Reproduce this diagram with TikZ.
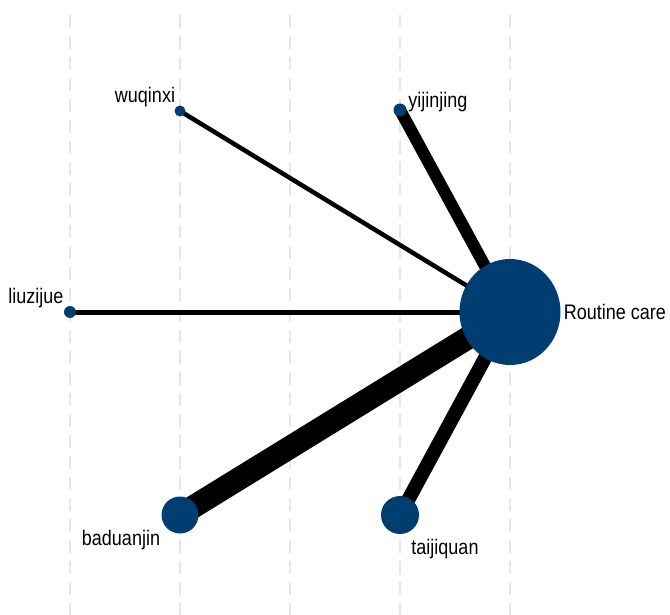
\documentclass[tikz,border=0pt]{standalone}
\usepackage{fontspec}
\setmainfont{Liberation Sans}
\usetikzlibrary{positioning, backgrounds, shapes.geometric}

\definecolor{nodeblue}{RGB}{0,62,114}
\definecolor{gridgray}{RGB}{230,230,230}
\newcommand{\tallword}[1]{\scalebox{1}[1.17]{#1}}

\begin{document}
\begin{tikzpicture}[x=1pt, y=-1pt, on grid, inner sep=0pt]
        \tikzset{trt/.style={circle, fill=nodeblue, minimum size=#1},
                 lbl/.style={font=\fontsize{18}{20}\selectfont, inner sep=0pt},
                 link/.style={draw=black, line width=#1}}
        \useasboundingbox (0,0) rectangle (670,615);

        \node[trt=11pt] (wuqinxi) at (180,111) {};
        \node[trt=13pt] (yijinjing) at (400,110) {};
        \node[trt=12pt] (liuzijue) at (70,312) {};
        \node[ellipse, fill=nodeblue, minimum width=101pt, minimum height=106pt] (routine) at (510,312) {};
        \node[trt=37pt] (baduanjin) at (180,515) {};
        \node[trt=38pt] (taijiquan) at (400,515) {};

        \node[lbl] (wuqinxi_l) [above left=14pt and 35pt of wuqinxi] {\tallword{wuqinxi}};
        \node[lbl] (yijinjing_l) [above right=8pt and 38pt of yijinjing] {\tallword{yijinjing}};
        \node[lbl] (liuzijue_l) [above left=14pt and 34pt of liuzijue] {\tallword{liuzijue}};
        \node[lbl] (routine_l) [right=105pt of routine] {\tallword{Routine care}};
        \node[lbl] (baduanjin_l) [below left=25pt and 59pt of baduanjin] {\tallword{baduanjin}};
        \node[lbl] (taijiquan_l) [below right=34pt and 45pt of taijiquan] {\tallword{taijiquan}};

        \begin{scope}[on background layer]
        \foreach \x in {70,180,290,400,510}
            \draw[gridgray, line width=2pt, dash pattern=on 13pt off 8pt] (\x,15) -- (\x,615);
        \path
        (routine.center) edge [link=4.5pt] (wuqinxi.center)
        (routine.center) edge [link=12pt] (yijinjing.center)
        (routine.center) edge [link=5pt] (liuzijue.center)
        (routine.center) edge [link=23pt] (baduanjin.center)
        (routine.center) edge [link=14pt] (taijiquan.center);
        \end{scope}
\end{tikzpicture}
\end{document}
